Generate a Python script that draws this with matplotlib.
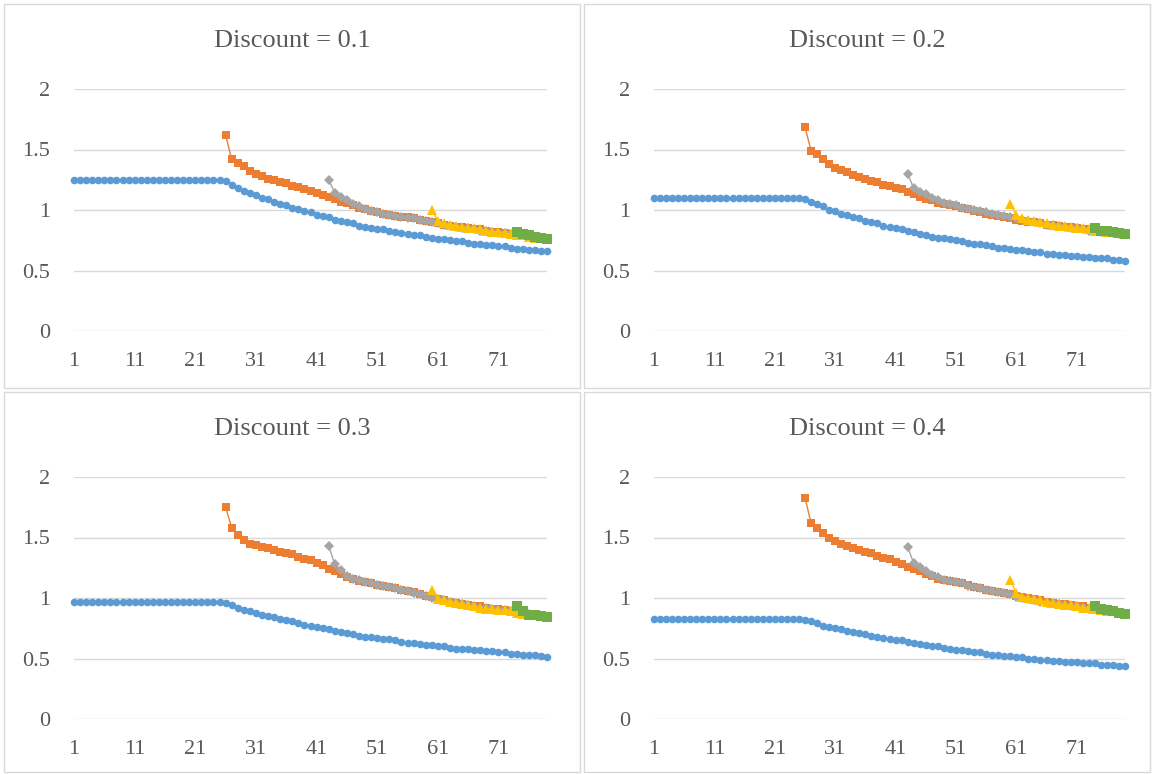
import matplotlib
matplotlib.use('Agg')
import matplotlib.pyplot as plt
from matplotlib.patches import Rectangle

plt.rcParams['font.family'] = ['Liberation Serif', 'DejaVu Serif']

titles = ['Discount = 0.1', 'Discount = 0.2', 'Discount = 0.3', 'Discount = 0.4']
starts = [1, 26, 43, 60, 74]  # first period of each series
xticks = [1, 11, 21, 31, 41, 51, 61, 71]
yticks = [0, 0.5, 1, 1.5, 2]

# Discount = 0.1
blue_01 = [1.25] * 25 + [
    1.24, 1.21, 1.18, 1.16, 1.14, 1.12, 1.10, 1.09, 1.07, 1.05, 1.04, 1.02, 1.01, 0.99, 0.98,
    0.96, 0.95, 0.94, 0.92, 0.91, 0.90, 0.89, 0.87, 0.86, 0.85, 0.84, 0.84, 0.83, 0.82, 0.81,
    0.80, 0.79, 0.79, 0.78, 0.77, 0.76, 0.76, 0.75, 0.74, 0.74, 0.73, 0.72, 0.72, 0.71, 0.71,
    0.70, 0.70, 0.69, 0.68, 0.68, 0.67, 0.67, 0.66, 0.66]
orange_01 = [1.62, 1.42, 1.39, 1.36, 1.32, 1.30, 1.28, 1.26, 1.25, 1.23, 1.22, 1.20, 1.19, 1.17, 1.16,
             1.14, 1.12, 1.11, 1.09, 1.07, 1.06, 1.04, 1.02, 1.01, 0.99, 0.98, 0.97, 0.96, 0.95, 0.94,
             0.94, 0.93, 0.92, 0.91, 0.90, 0.89, 0.88, 0.87, 0.86, 0.86, 0.85, 0.84, 0.84, 0.83, 0.82,
             0.82, 0.81, 0.80, 0.80, 0.79, 0.78, 0.78, 0.77, 0.76]
grey_01 = [1.25, 1.14, 1.11, 1.08, 1.05, 1.03, 1.01, 0.99, 0.98, 0.97, 0.96, 0.95, 0.94, 0.93, 0.93,
           0.92, 0.91, 0.90, 0.89, 0.88, 0.87, 0.86, 0.85, 0.85, 0.84, 0.83, 0.83, 0.82, 0.81, 0.81,
           0.80, 0.79, 0.79, 0.78, 0.77, 0.77, 0.76]
yellow_01 = [1.00, 0.91, 0.89, 0.88, 0.87, 0.86, 0.85, 0.85, 0.84, 0.83, 0.82, 0.82, 0.81, 0.80, 0.79,
             0.79, 0.78, 0.77, 0.77, 0.76]
green_01 = [0.82, 0.80, 0.79, 0.78, 0.77, 0.76]

# Discount = 0.2
blue_02 = [1.10] * 25 + [
    1.09, 1.07, 1.05, 1.03, 1.00, 0.99, 0.97, 0.96, 0.94, 0.93, 0.91, 0.90, 0.89, 0.87, 0.86,
    0.85, 0.84, 0.83, 0.82, 0.80, 0.79, 0.78, 0.77, 0.77, 0.76, 0.75, 0.74, 0.73, 0.72, 0.72,
    0.71, 0.70, 0.69, 0.69, 0.68, 0.67, 0.67, 0.66, 0.65, 0.65, 0.64, 0.64, 0.63, 0.63, 0.62,
    0.62, 0.61, 0.61, 0.60, 0.60, 0.60, 0.59, 0.59, 0.58]
orange_02 = [1.69, 1.49, 1.46, 1.42, 1.38, 1.35, 1.33, 1.31, 1.29, 1.27, 1.26, 1.24, 1.23, 1.21, 1.20,
             1.18, 1.17, 1.15, 1.13, 1.11, 1.09, 1.08, 1.06, 1.05, 1.04, 1.03, 1.02, 1.01, 0.99, 0.98,
             0.97, 0.96, 0.95, 0.94, 0.93, 0.92, 0.91, 0.90, 0.90, 0.89, 0.88, 0.88, 0.87, 0.86, 0.86,
             0.85, 0.84, 0.84, 0.83, 0.82, 0.82, 0.81, 0.81, 0.80]
grey_02 = [1.30, 1.18, 1.15, 1.13, 1.10, 1.08, 1.06, 1.05, 1.04, 1.02, 1.01, 1.00, 0.99, 0.98, 0.97,
           0.96, 0.95, 0.94, 0.93, 0.92, 0.91, 0.90, 0.89, 0.88, 0.88, 0.87, 0.86, 0.85, 0.85, 0.84,
           0.83, 0.83, 0.82, 0.82, 0.81, 0.80, 0.80]
yellow_02 = [1.05, 0.96, 0.93, 0.92, 0.91, 0.90, 0.89, 0.88, 0.87, 0.87, 0.86, 0.85, 0.85, 0.84, 0.83,
             0.83, 0.82, 0.82, 0.81, 0.80]
green_02 = [0.85, 0.83, 0.83, 0.82, 0.81, 0.80]

# Discount = 0.3
blue_03 = [0.97] * 25 + [
    0.96, 0.94, 0.92, 0.90, 0.89, 0.88, 0.86, 0.85, 0.84, 0.83, 0.82, 0.81, 0.79, 0.78, 0.77,
    0.76, 0.75, 0.74, 0.73, 0.72, 0.71, 0.70, 0.69, 0.68, 0.68, 0.67, 0.66, 0.66, 0.65, 0.64,
    0.63, 0.63, 0.62, 0.61, 0.61, 0.60, 0.60, 0.59, 0.58, 0.58, 0.58, 0.57, 0.57, 0.56, 0.56,
    0.55, 0.55, 0.54, 0.54, 0.53, 0.53, 0.53, 0.52, 0.51]
orange_03 = [1.75, 1.58, 1.52, 1.48, 1.45, 1.44, 1.42, 1.41, 1.40, 1.38, 1.37, 1.36, 1.34, 1.32, 1.31,
             1.29, 1.27, 1.24, 1.22, 1.20, 1.17, 1.16, 1.14, 1.13, 1.12, 1.11, 1.10, 1.09, 1.08, 1.07,
             1.06, 1.05, 1.03, 1.02, 1.01, 0.99, 0.98, 0.97, 0.96, 0.95, 0.94, 0.93, 0.93, 0.92, 0.91,
             0.91, 0.90, 0.89, 0.89, 0.88, 0.87, 0.86, 0.85, 0.84]
grey_03 = [1.43, 1.28, 1.23, 1.18, 1.16, 1.15, 1.13, 1.12, 1.11, 1.10, 1.09, 1.08, 1.07, 1.06, 1.04,
           1.03, 1.02, 1.00, 0.99, 0.98, 0.97, 0.96, 0.95, 0.94, 0.93, 0.92, 0.92, 0.91, 0.90, 0.90,
           0.89, 0.88, 0.87, 0.87, 0.86, 0.85, 0.84]
yellow_03 = [1.07, 0.99, 0.98, 0.97, 0.96, 0.95, 0.94, 0.93, 0.92, 0.91, 0.91, 0.90, 0.90, 0.89, 0.88,
             0.87, 0.87, 0.86, 0.85, 0.84]
green_03 = [0.93, 0.89, 0.86, 0.86, 0.85, 0.84]

# Discount = 0.4
blue_04 = [0.83] * 25 + [
    0.82, 0.81, 0.79, 0.77, 0.76, 0.75, 0.74, 0.73, 0.72, 0.71, 0.70, 0.69, 0.68, 0.67, 0.66,
    0.65, 0.65, 0.64, 0.63, 0.62, 0.61, 0.60, 0.60, 0.59, 0.58, 0.57, 0.57, 0.56, 0.55, 0.55,
    0.54, 0.53, 0.53, 0.52, 0.52, 0.51, 0.51, 0.50, 0.50, 0.49, 0.49, 0.48, 0.48, 0.47, 0.47,
    0.47, 0.46, 0.46, 0.46, 0.45, 0.45, 0.45, 0.44, 0.44]
orange_04 = [1.83, 1.62, 1.58, 1.54, 1.50, 1.47, 1.45, 1.43, 1.41, 1.40, 1.38, 1.37, 1.35, 1.33, 1.32,
             1.30, 1.28, 1.26, 1.24, 1.22, 1.20, 1.18, 1.16, 1.15, 1.14, 1.13, 1.12, 1.11, 1.09, 1.08,
             1.07, 1.06, 1.05, 1.04, 1.03, 1.02, 1.01, 1.00, 0.99, 0.98, 0.97, 0.96, 0.95, 0.95, 0.94,
             0.93, 0.93, 0.92, 0.91, 0.90, 0.90, 0.89, 0.88, 0.88]
grey_04 = [1.42, 1.29, 1.26, 1.22, 1.19, 1.17, 1.15, 1.14, 1.13, 1.12, 1.10, 1.09, 1.08, 1.07, 1.06,
           1.05, 1.04, 1.03, 1.01, 1.00, 0.99, 0.98, 0.97, 0.96, 0.96, 0.95, 0.94, 0.93, 0.93, 0.92,
           0.91, 0.91, 0.90, 0.89, 0.89, 0.88, 0.87]
yellow_04 = [1.15, 1.04, 1.01, 1.00, 0.99, 0.98, 0.97, 0.96, 0.95, 0.94, 0.94, 0.93, 0.92, 0.92, 0.91,
             0.90, 0.89, 0.89, 0.88, 0.87]
green_04 = [0.93, 0.91, 0.90, 0.89, 0.88, 0.87]

panels = [
    [blue_01, orange_01, grey_01, yellow_01, green_01],
    [blue_02, orange_02, grey_02, yellow_02, green_02],
    [blue_03, orange_03, grey_03, yellow_03, green_03],
    [blue_04, orange_04, grey_04, yellow_04, green_04],
]

colors = ['#5B9BD5', '#ED7D31', '#A5A5A5', '#FFC000', '#70AD47']
markers = ['o', 's', 'D', '^', 's']
msizes = [5.5, 6, 5, 6.5, 7]

W, H = 1153, 774
fig = plt.figure(figsize=(W / 100, H / 100), dpi=100)

# panel frames and plot areas, in pixels (left, top, right, bottom)
frames = [(4, 4, 580, 388), (584, 4, 1150, 388), (4, 392, 580, 772), (584, 392, 1150, 772)]
areas = [(74, 89, 547, 331), (654, 89, 1125, 331), (74, 477, 547, 719), (654, 477, 1125, 719)]

for k in range(4):
    l, t, r, b = frames[k]
    fig.patches.append(Rectangle((l / W, 1 - b / H), (r - l) / W, (b - t) / H,
                                 transform=fig.transFigure, fill=False,
                                 edgecolor='#D9D9D9', lw=1.0))
    fig.text((l + r) / 2 / W, 1 - (t + 37) / H, titles[k], fontsize=19,
             color='#595959', ha='center', va='center')
    l, t, r, b = areas[k]
    ax = fig.add_axes([l / W, 1 - b / H, (r - l) / W, (b - t) / H])
    for vals, s0, c, m, ms in zip(panels[k], starts, colors, markers, msizes):
        xs = list(range(s0, s0 + len(vals)))
        ax.plot(xs, vals, color=c, lw=1.0, marker=m, markersize=ms,
                markeredgewidth=0, clip_on=False)
    ax.set_xlim(1, 79)
    ax.set_ylim(0, 2)
    ax.set_xticks(xticks)
    ax.set_xticklabels([str(v) for v in xticks])
    ax.set_yticks(yticks)
    ax.set_yticklabels(['0', '0.5', '1', '1.5', '2'])
    ax.grid(axis='y', color='#D9D9D9', lw=1.0)
    ax.set_axisbelow(True)
    for sp in ax.spines.values():
        sp.set_visible(False)
    ax.tick_params(length=0, labelsize=16, labelcolor='#595959')
    ax.tick_params(axis='x', pad=15)
    ax.tick_params(axis='y', pad=17)

fig.savefig('out.png', dpi=100)
